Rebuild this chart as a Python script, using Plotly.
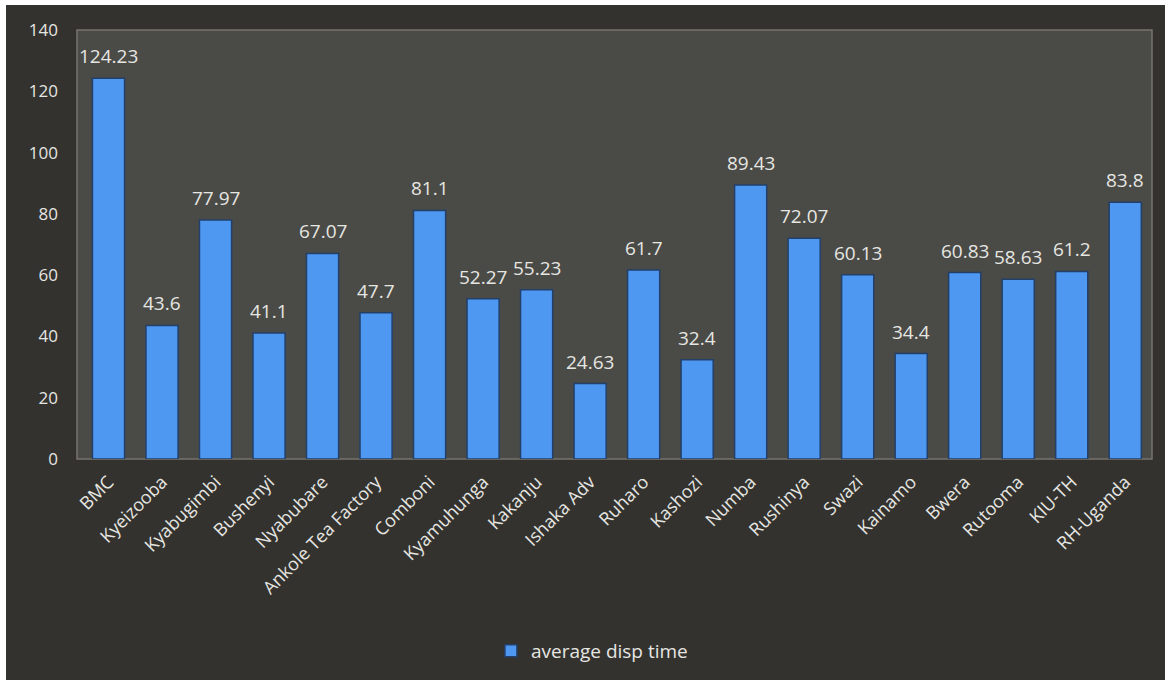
import plotly.graph_objects as go

categories = ["BMC", "Kyeizooba", "Kyabugimbi", "Bushenyi", "Nyabubare", "Ankole Tea Factory",
              "Comboni", "Kyamuhunga", "Kakanju", "Ishaka Adv", "Ruharo", "Kashozi", "Numba",
              "Rushinya", "Swazi", "Kainamo", "Bwera", "Rutooma", "KIU-TH", "RH-Uganda"]
values = [124.23, 43.6, 77.97, 41.1, 67.07, 47.7, 81.1, 52.27, 55.23, 24.63, 61.7, 32.4,
          89.43, 72.07, 60.13, 34.4, 60.83, 58.63, 61.2, 83.8]
value_labels = ["124.23", "43.6", "77.97", "41.1", "67.07", "47.7", "81.1", "52.27", "55.23",
                "24.63", "61.7", "32.4", "89.43", "72.07", "60.13", "34.4", "60.83", "58.63",
                "61.2", "83.8"]
y_ticks = [0, 20, 40, 60, 80, 100, 120, 140]
series_name = "average disp time"

W, H = 1169, 684
L, R, T, B = 77, 17, 30, 225
pw, ph = W - L - R, H - T - B

def px_x(p):
    return (p - L) / pw

def px_y(p):
    return (H - B - p) / ph

font_family = "Open Sans, Lato, sans-serif"
txt_color = "#e6e6e2"

fig = go.Figure()
fig.add_trace(go.Bar(
    x=categories, y=values, name=series_name,
    cliponaxis=False,
    marker=dict(color="#4f98f2", line=dict(color="#22406a", width=1.5)),
    width=0.6,
))

annotations = [
    dict(x=c, y=v, text=t, xref="x", yref="y", showarrow=False,
         yanchor="bottom", yshift=7,
         font=dict(color=txt_color, size=19, family=font_family))
    for c, v, t in zip(categories, values, value_labels)
]

shapes = [
    # outer dark chart area
    dict(type="rect", xref="paper", yref="paper", layer="below",
         x0=px_x(6), x1=px_x(1165), y0=px_y(680), y1=px_y(5),
         fillcolor="#33322e", line=dict(width=0)),
    # plot area
    dict(type="rect", xref="paper", yref="paper", layer="below",
         x0=0, x1=1, y0=0, y1=1,
         fillcolor="#4a4a46", line=dict(color="#77746c", width=1.5)),
]

fig.update_layout(
    width=W, height=H,
    margin=dict(l=L, r=R, t=T, b=B),
    paper_bgcolor="#ffffff",
    plot_bgcolor="rgba(0,0,0,0)",
    shapes=shapes,
    annotations=annotations,
    showlegend=True,
    legend=dict(orientation="h", x=0.479, xanchor="center", y=px_y(651), yanchor="middle",
                itemwidth=30,
                font=dict(color=txt_color, size=19, family=font_family),
                bgcolor="rgba(0,0,0,0)"),
    xaxis=dict(tickangle=-45, tickfont=dict(color=txt_color, size=18, family=font_family),
               showgrid=False, showline=False, ticks="", zeroline=False,
               ticklabelstandoff=8),
    yaxis=dict(range=[0, 140], tickvals=y_ticks,
               tickfont=dict(color=txt_color, size=17, family=font_family),
               showgrid=False, showline=False, zeroline=False, ticks="",
               ticklabelstandoff=18),
)

fig.write_html("out.html")
